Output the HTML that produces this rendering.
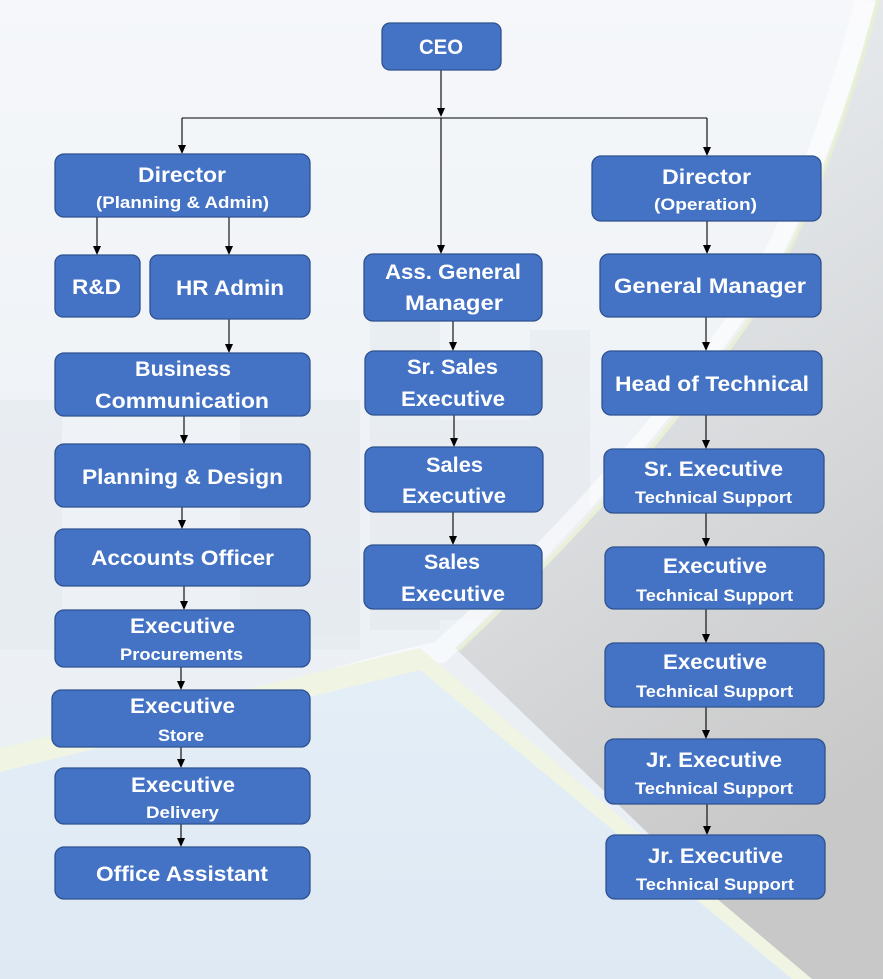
<!DOCTYPE html>
<html>
<head>
<meta charset="utf-8">
<style>
html,body{margin:0;padding:0;}
body{width:883px;height:979px;overflow:hidden;background:#f2f5f8;}
svg{display:block;}
.b{fill:#4472C4;stroke:#2F528F;stroke-width:1.3;}
.t{font-family:"Liberation Sans",sans-serif;font-weight:bold;fill:#ffffff;font-size:21.5px;}
.s{font-family:"Liberation Sans",sans-serif;font-weight:bold;fill:#ffffff;font-size:17px;}
.l{stroke:#000;stroke-width:1.1;fill:none;}
.a{fill:#000;}
</style>
</head>
<body>
<svg width="883" height="979" viewBox="0 0 883 979" xmlns="http://www.w3.org/2000/svg">
<defs>
  <linearGradient id="bg" x1="0" y1="0" x2="0" y2="1">
    <stop offset="0" stop-color="#f5f7fa"/>
    <stop offset="0.5" stop-color="#eef2f6"/>
    <stop offset="1" stop-color="#e8eef4"/>
  </linearGradient>
  <linearGradient id="city" x1="0" y1="0" x2="0.3" y2="1">
    <stop offset="0" stop-color="#f0f2f5"/>
    <stop offset="0.35" stop-color="#e3e6e9"/>
    <stop offset="0.65" stop-color="#d6d8da"/>
    <stop offset="1" stop-color="#c9c8c8"/>
  </linearGradient>
  <linearGradient id="tri" x1="0" y1="0" x2="0" y2="1">
    <stop offset="0" stop-color="#e4eef7"/>
    <stop offset="1" stop-color="#dfe9f3"/>
  </linearGradient>
</defs>

<!-- background -->
<rect x="0" y="0" width="883" height="979" fill="url(#bg)"/>
<!-- faint buildings -->
<g fill="#dde2e8" opacity="0.35">
  <rect x="0" y="400" width="62" height="250"/>
  <rect x="240" y="400" width="120" height="250"/>
  <rect x="370" y="300" width="70" height="330"/>
  <rect x="530" y="330" width="60" height="300"/>
  <rect x="440" y="420" width="100" height="200"/>
</g>
<!-- city region right -->
<path d="M455 648 Q640 470 758 300 Q830 175 876 0 L883 0 L883 979 L800 979 Z" fill="url(#city)"/>
<!-- white swoosh -->
<path d="M300 690 Q380 665 440 652 Q630 480 748 305 Q820 180 866 0" stroke="#ffffff" stroke-width="22" fill="none" opacity="0.55"/>
<path d="M458 650 Q642 478 760 305 Q832 180 878 0" stroke="#e6f0d2" stroke-width="4" fill="none" opacity="0.8"/>
<!-- green band -->
<path d="M0 748 L420 648 L812 979 L792 979 L420 670 L0 772 Z" fill="#eff4e3"/>
<!-- blue triangle -->
<path d="M0 772 L420 670 L792 979 L0 979 Z" fill="url(#tri)"/>

<!-- connectors -->
<g>
  <line class="l" x1="441" y1="70" x2="441" y2="108"/>
  <polygon class="a" points="437,108 445,108 441,117"/>
  <line class="l" x1="182" y1="118" x2="707" y2="118"/>
  <line class="l" x1="182" y1="118" x2="182" y2="146"/>
  <polygon class="a" points="178,145 186,145 182,154"/>
  <line class="l" x1="707" y1="118" x2="707" y2="148"/>
  <polygon class="a" points="703,147 711,147 707,156"/>
  <line class="l" x1="441" y1="118" x2="441" y2="246"/>
  <polygon class="a" points="437,245 445,245 441,254"/>

  <line class="l" x1="97" y1="217" x2="97" y2="247"/>
  <polygon class="a" points="93,246 101,246 97,255"/>
  <line class="l" x1="229" y1="217" x2="229" y2="247"/>
  <polygon class="a" points="225,246 233,246 229,255"/>

  <line class="l" x1="229" y1="319" x2="229" y2="345"/>
  <polygon class="a" points="225,344 233,344 229,353"/>
  <line class="l" x1="184" y1="416" x2="184" y2="436"/>
  <polygon class="a" points="180,435 188,435 184,444"/>
  <line class="l" x1="182" y1="507" x2="182" y2="521"/>
  <polygon class="a" points="178,520 186,520 182,529"/>
  <line class="l" x1="184" y1="586" x2="184" y2="602"/>
  <polygon class="a" points="180,601 188,601 184,610"/>
  <line class="l" x1="181" y1="667" x2="181" y2="682"/>
  <polygon class="a" points="177,681 185,681 181,690"/>
  <line class="l" x1="181" y1="747" x2="181" y2="760"/>
  <polygon class="a" points="177,759 185,759 181,768"/>
  <line class="l" x1="181" y1="824" x2="181" y2="839"/>
  <polygon class="a" points="177,838 185,838 181,847"/>

  <line class="l" x1="453" y1="321" x2="453" y2="343"/>
  <polygon class="a" points="449,342 457,342 453,351"/>
  <line class="l" x1="454" y1="415" x2="454" y2="439"/>
  <polygon class="a" points="450,438 458,438 454,447"/>
  <line class="l" x1="453" y1="512" x2="453" y2="537"/>
  <polygon class="a" points="449,536 457,536 453,545"/>

  <line class="l" x1="707" y1="221" x2="707" y2="246"/>
  <polygon class="a" points="703,245 711,245 707,254"/>
  <line class="l" x1="706" y1="317" x2="706" y2="343"/>
  <polygon class="a" points="702,342 710,342 706,351"/>
  <line class="l" x1="706" y1="415" x2="706" y2="441"/>
  <polygon class="a" points="702,440 710,440 706,449"/>
  <line class="l" x1="706" y1="513" x2="706" y2="539"/>
  <polygon class="a" points="702,538 710,538 706,547"/>
  <line class="l" x1="706" y1="609" x2="706" y2="635"/>
  <polygon class="a" points="702,634 710,634 706,643"/>
  <line class="l" x1="706" y1="707" x2="706" y2="731"/>
  <polygon class="a" points="702,730 710,730 706,739"/>
  <line class="l" x1="707" y1="804" x2="707" y2="827"/>
  <polygon class="a" points="703,826 711,826 707,835"/>
</g>

<!-- boxes -->
<g>
  <rect class="b" x="382" y="23" width="119" height="47" rx="8"/>
  <rect class="b" x="55" y="154" width="255" height="63" rx="9"/>
  <rect class="b" x="592" y="156" width="229" height="65" rx="9"/>
  <rect class="b" x="55" y="255" width="85" height="62" rx="8"/>
  <rect class="b" x="150" y="255" width="160" height="64" rx="8"/>
  <rect class="b" x="364" y="254" width="178" height="67" rx="9"/>
  <rect class="b" x="600" y="254" width="221" height="63" rx="9"/>
  <rect class="b" x="55" y="353" width="255" height="63" rx="9"/>
  <rect class="b" x="365" y="351" width="177" height="64" rx="9"/>
  <rect class="b" x="602" y="351" width="220" height="64" rx="9"/>
  <rect class="b" x="55" y="444" width="255" height="63" rx="9"/>
  <rect class="b" x="365" y="447" width="178" height="65" rx="9"/>
  <rect class="b" x="604" y="449" width="220" height="64" rx="9"/>
  <rect class="b" x="55" y="529" width="255" height="57" rx="9"/>
  <rect class="b" x="364" y="545" width="178" height="64" rx="9"/>
  <rect class="b" x="605" y="547" width="219" height="62" rx="9"/>
  <rect class="b" x="55" y="610" width="255" height="57" rx="9"/>
  <rect class="b" x="605" y="643" width="219" height="64" rx="9"/>
  <rect class="b" x="52" y="690" width="258" height="57" rx="9"/>
  <rect class="b" x="55" y="768" width="255" height="56" rx="9"/>
  <rect class="b" x="55" y="847" width="255" height="52" rx="9"/>
  <rect class="b" x="605" y="739" width="220" height="65" rx="9"/>
  <rect class="b" x="606" y="835" width="219" height="64" rx="9"/>
</g>

<!-- labels -->
<g>
  <text class="t" x="419" y="54" textLength="44" lengthAdjust="spacingAndGlyphs">CEO</text>
  <text class="t" x="138" y="182" textLength="88" lengthAdjust="spacingAndGlyphs">Director</text>
  <text class="s" x="96" y="208" textLength="173" lengthAdjust="spacingAndGlyphs">(Planning &amp; Admin)</text>
  <text class="t" x="662" y="184" textLength="89" lengthAdjust="spacingAndGlyphs">Director</text>
  <text class="s" x="654" y="210" textLength="103" lengthAdjust="spacingAndGlyphs">(Operation)</text>
  <text class="t" x="72" y="294" textLength="49" lengthAdjust="spacingAndGlyphs">R&amp;D</text>
  <text class="t" x="176" y="295" textLength="108" lengthAdjust="spacingAndGlyphs">HR Admin</text>
  <text class="t" x="385" y="279" textLength="136" lengthAdjust="spacingAndGlyphs">Ass. General</text>
  <text class="t" x="405" y="310" textLength="98" lengthAdjust="spacingAndGlyphs">Manager</text>
  <text class="t" x="614" y="293" textLength="192" lengthAdjust="spacingAndGlyphs">General Manager</text>
  <text class="t" x="135" y="376" textLength="96" lengthAdjust="spacingAndGlyphs">Business</text>
  <text class="t" x="95" y="408" textLength="174" lengthAdjust="spacingAndGlyphs">Communication</text>
  <text class="t" x="407" y="374" textLength="91" lengthAdjust="spacingAndGlyphs">Sr. Sales</text>
  <text class="t" x="401" y="406" textLength="104" lengthAdjust="spacingAndGlyphs">Executive</text>
  <text class="t" x="615" y="391" textLength="194" lengthAdjust="spacingAndGlyphs">Head of Technical</text>
  <text class="t" x="82" y="484" textLength="201" lengthAdjust="spacingAndGlyphs">Planning &amp; Design</text>
  <text class="t" x="426" y="472" textLength="57" lengthAdjust="spacingAndGlyphs">Sales</text>
  <text class="t" x="402" y="503" textLength="104" lengthAdjust="spacingAndGlyphs">Executive</text>
  <text class="t" x="644" y="476" textLength="139" lengthAdjust="spacingAndGlyphs">Sr. Executive</text>
  <text class="s" x="635" y="503" textLength="157" lengthAdjust="spacingAndGlyphs">Technical Support</text>
  <text class="t" x="91" y="565" textLength="183" lengthAdjust="spacingAndGlyphs">Accounts Officer</text>
  <text class="t" x="424" y="569" textLength="56" lengthAdjust="spacingAndGlyphs">Sales</text>
  <text class="t" x="401" y="601" textLength="104" lengthAdjust="spacingAndGlyphs">Executive</text>
  <text class="t" x="663" y="573" textLength="104" lengthAdjust="spacingAndGlyphs">Executive</text>
  <text class="s" x="636" y="601" textLength="157" lengthAdjust="spacingAndGlyphs">Technical Support</text>
  <text class="t" x="130" y="633" textLength="105" lengthAdjust="spacingAndGlyphs">Executive</text>
  <text class="s" x="120" y="660" textLength="123" lengthAdjust="spacingAndGlyphs">Procurements</text>
  <text class="t" x="663" y="669" textLength="104" lengthAdjust="spacingAndGlyphs">Executive</text>
  <text class="s" x="636" y="697" textLength="157" lengthAdjust="spacingAndGlyphs">Technical Support</text>
  <text class="t" x="130" y="713" textLength="105" lengthAdjust="spacingAndGlyphs">Executive</text>
  <text class="s" x="158" y="741" textLength="46" lengthAdjust="spacingAndGlyphs">Store</text>
  <text class="t" x="131" y="792" textLength="104" lengthAdjust="spacingAndGlyphs">Executive</text>
  <text class="s" x="146" y="818" textLength="73" lengthAdjust="spacingAndGlyphs">Delivery</text>
  <text class="t" x="96" y="881" textLength="172" lengthAdjust="spacingAndGlyphs">Office Assistant</text>
  <text class="t" x="646" y="767" textLength="136" lengthAdjust="spacingAndGlyphs">Jr. Executive</text>
  <text class="s" x="635" y="794" textLength="158" lengthAdjust="spacingAndGlyphs">Technical Support</text>
  <text class="t" x="648" y="863" textLength="135" lengthAdjust="spacingAndGlyphs">Jr. Executive</text>
  <text class="s" x="636" y="890" textLength="158" lengthAdjust="spacingAndGlyphs">Technical Support</text>
</g>
</svg>
</body>
</html>
